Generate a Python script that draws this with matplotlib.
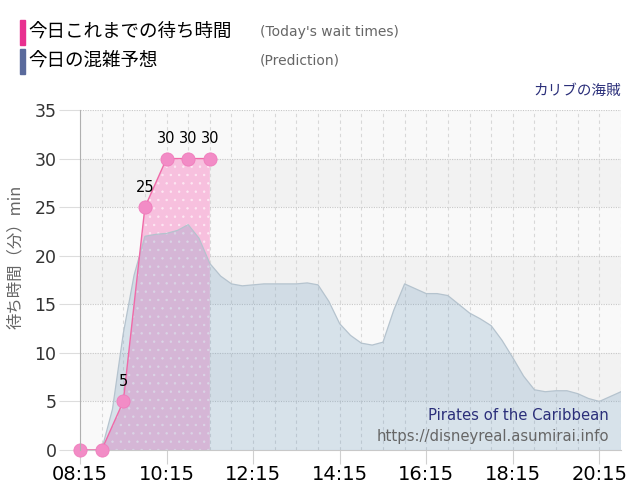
import matplotlib
matplotlib.use("Agg")
import matplotlib.pyplot as plt
import numpy as np

plt.rcParams['font.family'] = ['DejaVu Sans', 'Noto Sans CJK JP']
plt.rcParams['hatch.linewidth'] = 0.5

# ---- data ----
actual_times = ["08:15", "08:45", "09:15", "09:45", "10:15", "10:45", "11:15"]
actual_waits = [0, 0, 5, 25, 30, 30, 30]

pred_times = ["08:15", "08:30", "08:45", "09:00", "09:15", "09:30", "09:45", "10:00",
              "10:15", "10:30", "10:45", "11:00", "11:15", "11:30", "11:45", "12:00",
              "12:15", "12:30", "12:45", "13:00", "13:15", "13:30", "13:45", "14:00",
              "14:15", "14:30", "14:45", "15:00", "15:15", "15:30", "15:45", "16:00",
              "16:15", "16:30", "16:45", "17:00", "17:15", "17:30", "17:45", "18:00",
              "18:15", "18:30", "18:45", "19:00", "19:15", "19:30", "19:45", "20:00",
              "20:15", "20:30", "20:45"]
pred_waits = [0, 0, 0, 4.2, 12, 18, 22, 22.2,
              22.3, 22.6, 23.2, 21.8, 19.2, 17.9, 17.1, 16.9,
              17.0, 17.1, 17.1, 17.1, 17.1, 17.2, 17.0, 15.3,
              13.0, 11.8, 11.0, 10.8, 11.1, 14.4, 17.1, 16.6,
              16.1, 16.1, 15.9, 15.0, 14.1, 13.5, 12.8, 11.3,
              9.5, 7.6, 6.2, 6.0, 6.1, 6.1, 5.8, 5.3,
              5.0, 5.5, 6.0]

xtick_labels = ["08:15", "10:15", "12:15", "14:15", "16:15", "18:15", "20:15"]
yticks = [0, 5, 10, 15, 20, 25, 30, 35]

title_actual_jp = "今日これまでの待ち時間"
title_actual_en = "(Today's wait times)"
title_pred_jp = "今日の混雑予想"
title_pred_en = "(Prediction)"
attraction_jp = "カリブの海賊"
attraction_en = "Pirates of the Caribbean"
site_url = "https://disneyreal.asumirai.info"
ylabel = "待ち時間（分）min"


def to_h(s):
    h, m = s.split(":")
    return int(h) + int(m) / 60.0


ax_t = np.array([to_h(t) for t in actual_times])
ax_v = np.array(actual_waits, dtype=float)
pr_t = np.array([to_h(t) for t in pred_times])
pr_v = np.array(pred_waits, dtype=float)
xt = [to_h(t) for t in xtick_labels]

x0, x1 = to_h("08:15"), to_h("20:45")

W, H = 640, 500
fig = plt.figure(figsize=(6.4, 5.0), dpi=100)
ax = fig.add_axes([80 / W, 50 / H, 541 / W, 340 / H])
ax.set_xlim(x0, x1)
ax.set_ylim(0, 35)

# alternating bands
for i, lo in enumerate(range(0, 35, 5)):
    col = '#f9f9f9' if (i % 2 == 0) else '#f2f2f2'
    ax.axhspan(lo, lo + 5, color=col, zorder=0, lw=0)

# grid
half_hours = np.arange(x0, x1 + 0.01, 0.5)
for xv in half_hours:
    ax.axvline(xv, color='#d8d8d8', lw=0.8, ls=(0, (3, 3)), zorder=1)
for yv in yticks[1:]:
    ax.axhline(yv, color='#c8c8c8', lw=0.8, ls=(0, (1, 1.2)), zorder=1)

# actual (pink) area with dotted pattern
ax.fill_between(ax_t, 0, ax_v, facecolor='#f7c0de', edgecolor='#fde8f3',
                hatch='..', linewidth=0, zorder=2)

# prediction area on top, semi-transparent
ax.fill_between(pr_t, 0, pr_v, facecolor='#6b99bd', alpha=0.24, lw=0, zorder=3)
ax.plot(pr_t, pr_v, color='#b5c3ce', lw=0.9, zorder=4)

# actual line and markers
ax.plot(ax_t, ax_v, color='#f06aa8', lw=1.0, zorder=5)
ax.plot(ax_t, ax_v, 'o', ms=9.5, color='#f28cc6', mec='#f07cbc', mew=0.6,
        zorder=6, clip_on=False)
for t, v in zip(ax_t, ax_v):
    if v > 0:
        ax.annotate(f"{int(v)}", (t, v), xytext=(0, 9), textcoords='offset points',
                    ha='center', va='bottom', fontsize=10.5, color='black', zorder=7)

# axes styling
for s in ['top', 'right']:
    ax.spines[s].set_visible(False)
ax.spines['left'].set_color('#b0b0b0')
ax.spines['bottom'].set_color('#c8c8c8')
ax.spines['left'].set_zorder(8)
ax.set_xticks(xt)
ax.set_xticklabels(xtick_labels, fontsize=14, color='black')
ax.set_yticks(yticks)
ax.set_yticklabels([str(v) for v in yticks], fontsize=12.5, color='#333333')
ax.tick_params(axis='y', length=15, color='#dddddd', width=0.8, pad=2)
ax.tick_params(axis='x', length=10, color='#d0d0d0', width=0.8, pad=1)
ax.set_ylabel(ylabel, fontsize=11.8, color='#666666',
              family=['Noto Sans CJK JP', 'DejaVu Sans'])
ax.yaxis.set_label_coords((24 - 80) / 541, (450 - 257) / 340)

# watermark (figure pixel coords, measured from top)
fig.text(609 / W, 1 - 415 / H, attraction_en, ha='right', va='center',
         fontsize=10.7, color='#2b2f7a', zorder=9)
fig.text(609 / W, 1 - 436 / H, site_url, ha='right', va='center',
         fontsize=10.7, color='#666666', zorder=9)

# header / legend
fig.patches.append(plt.Rectangle((20 / W, 1 - 45 / H), 5 / W, 25 / H,
                                 transform=fig.transFigure, color='#e8308f'))
fig.patches.append(plt.Rectangle((20 / W, 1 - 74 / H), 5 / W, 25 / H,
                                 transform=fig.transFigure, color='#5a6a9c'))
cjk = ['Noto Sans CJK JP', 'DejaVu Sans']
fig.text(28 / W, 1 - 32 / H, title_actual_jp, fontsize=13.3, color='black',
         va='center', ha='left', family=cjk)
fig.text(260 / W, 1 - 32 / H, title_actual_en, fontsize=10, color='#666666',
         va='center', ha='left')
fig.text(28 / W, 1 - 61 / H, title_pred_jp, fontsize=13.3, color='black',
         va='center', ha='left', family=cjk)
fig.text(260 / W, 1 - 61 / H, title_pred_en, fontsize=10, color='#666666',
         va='center', ha='left')
fig.text(621 / W, 1 - 91 / H, attraction_jp, fontsize=10.5, color='#2b2f7a',
         va='center', ha='right', family=cjk)

fig.savefig("out.png", dpi=100)
